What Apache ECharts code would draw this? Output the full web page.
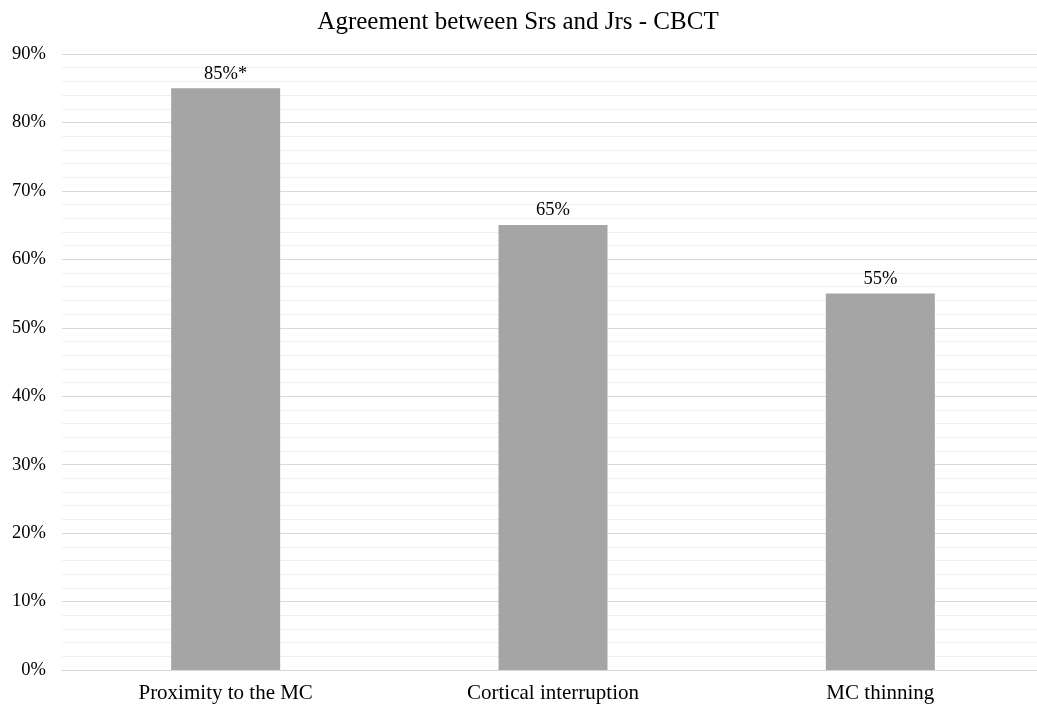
<!DOCTYPE html>
<html>
<head>
<meta charset="utf-8">
<script src="https://cdn.jsdelivr.net/npm/echarts@6/dist/echarts.min.js"></script>
<style>
  html, body { margin: 0; padding: 0; background: #ffffff; overflow: hidden; }
  /* plot runs slightly past the right edge of the window */
  #chart { width: 1044px; height: 709px; }
</style>
</head>
<body>
<div id="chart"></div>
<script>
// Agreement rates per CBCT finding
const categories = ['Proximity to the MC', 'Cortical interruption', 'MC thinning'];
const agreement = [85, 65, 55];
const valueLabels = ['85%*', '65%', '55%'];

const FONT = '"Liberation Serif", "Times New Roman", serif';

const chart = echarts.init(document.getElementById('chart'), null, { renderer: 'canvas' });
chart.setOption({
  backgroundColor: '#ffffff',
  animation: false,
  title: {
    text: 'Agreement between Srs and Jrs - CBCT',
    left: 513,
    textAlign: 'center',
    top: 5,
    textStyle: { fontFamily: FONT, fontSize: 25, fontWeight: 'normal', color: '#000000' }
  },
  grid: { left: 62, top: 54, right: 0, bottom: 39, containLabel: false },
  xAxis: {
    type: 'category',
    data: categories,
    axisLine: { show: true, lineStyle: { color: '#d9d9d9', width: 1 } },
    axisTick: { show: false },
    axisLabel: { fontFamily: FONT, fontSize: 21, color: '#000000', margin: 13 }
  },
  yAxis: {
    type: 'value',
    min: 0,
    max: 90,
    interval: 10,
    axisLine: { show: false },
    axisTick: { show: false },
    axisLabel: { fontFamily: FONT, fontSize: 18.5, color: '#000000', margin: 16, formatter: '{value}%' },
    splitLine: { show: true, lineStyle: { color: '#d9d9d9', width: 1 } },
    minorTick: { show: false, splitNumber: 5 },
    minorSplitLine: { show: true, lineStyle: { color: '#f0f0f0', width: 1 } }
  },
  series: [{
    type: 'bar',
    data: agreement,
    barWidth: 109,
    itemStyle: { color: '#a5a5a5' },
    label: {
      show: true,
      position: 'top',
      distance: 5,
      fontFamily: FONT,
      fontSize: 18.5,
      color: '#000000',
      formatter: p => valueLabels[p.dataIndex]
    }
  }]
});
</script>
</body>
</html>
